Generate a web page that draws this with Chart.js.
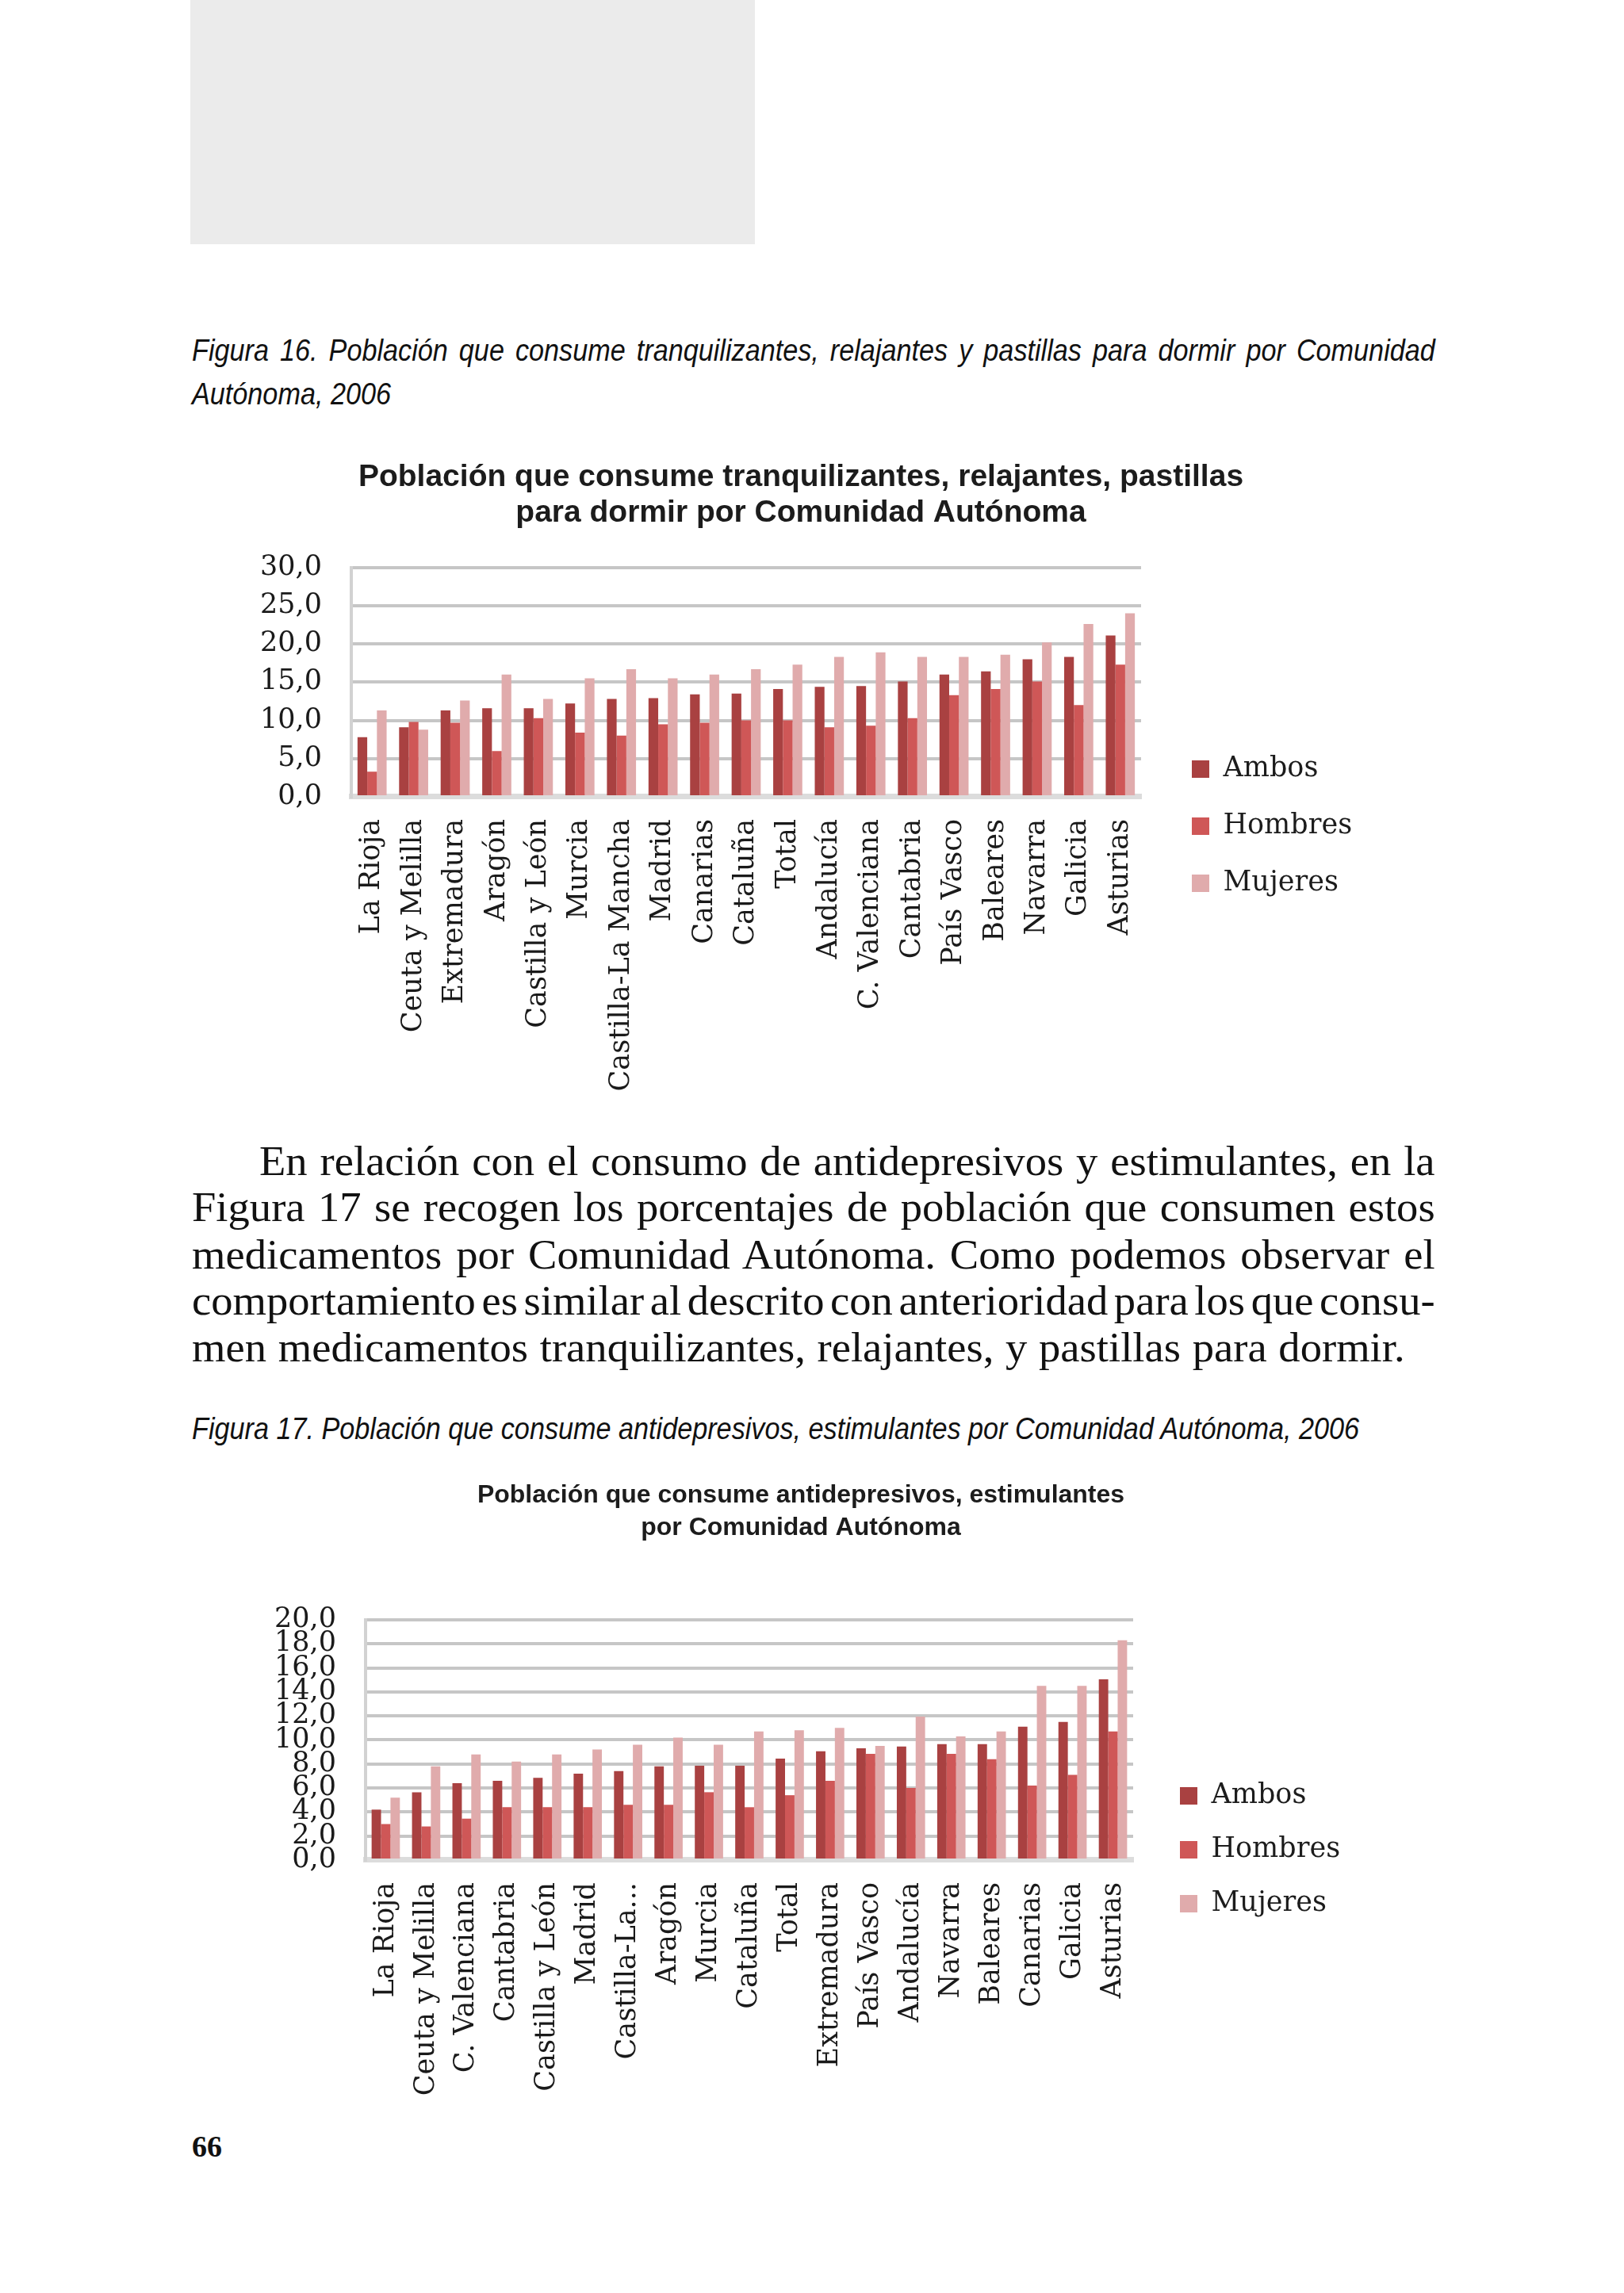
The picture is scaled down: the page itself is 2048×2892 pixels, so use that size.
<!DOCTYPE html>
<html lang="es">
<head>
<meta charset="utf-8">
<script src="https://cdn.jsdelivr.net/npm/chart.js@4.4.1/dist/chart.umd.min.js"></script>
<style>
html, body { margin: 0; padding: 0; background: #fff; }
body { width: 2048px; height: 2892px; position: relative; overflow: hidden; }
.abs { position: absolute; }
.cap { font-family: "Liberation Sans Narrow", "Liberation Sans", sans-serif; font-style: italic; font-size: 38px; line-height: 1; white-space: nowrap; transform-origin: 0 0; transform: scaleX(0.9); color: #111; }
.par { font-family: "Liberation Serif", serif; font-size: 52px; line-height: 1; white-space: nowrap; transform-origin: 0 0; transform: scaleX(1.05); color: #111; word-spacing: -6px; }
.just { text-align: justify; text-align-last: justify; }
canvas { position: absolute; }
</style>
</head>
<body>

<div class="abs" style="left:240px;top:0;width:712px;height:308px;background:#ebebeb"></div>

<div class="abs cap just" style="left:242px;top:423px;width:1742px">Figura 16. Población que consume tranquilizantes, relajantes y pastillas para dormir por Comunidad</div>
<div class="abs cap" style="left:242px;top:478px">Autónoma, 2006</div>

<canvas id="chart1" width="1420" height="944" style="left:300px;top:570px;width:1420px;height:944px"></canvas>

<div class="abs par just" style="left:327px;top:1439px;width:1412px">En relación con el consumo de antidepresivos y estimulantes, en la</div>
<div class="abs par just" style="left:242px;top:1497px;width:1493px">Figura 17 se recogen los porcentajes de población que consumen estos</div>
<div class="abs par just" style="left:242px;top:1557px;width:1493px">medicamentos por Comunidad Autónoma. Como podemos observar el</div>
<div class="abs par just" style="left:242px;top:1615px;width:1493px">comportamiento es similar al descrito con anterioridad para los que consu-</div>
<div class="abs par" style="left:242px;top:1674px;word-spacing:1px">men medicamentos tranquilizantes, relajantes, y pastillas para dormir.</div>

<div class="abs cap" style="left:242px;top:1783px">Figura 17. Población que consume antidepresivos, estimulantes por Comunidad Autónoma, 2006</div>

<canvas id="chart2" width="1380" height="954" style="left:320px;top:1856px;width:1380px;height:954px"></canvas>

<div class="abs" style="left:242px;top:2688px;font-family:'Liberation Serif',serif;font-weight:bold;font-size:38px;line-height:1;color:#111">66</div>

<script>
// Figura 16
const cats1 = ['La Rioja', 'Ceuta y Melilla', 'Extremadura', 'Aragón', 'Castilla y León', 'Murcia',
  'Castilla-La Mancha', 'Madrid', 'Canarias', 'Cataluña', 'Total', 'Andalucía', 'C. Valenciana',
  'Cantabria', 'País Vasco', 'Baleares', 'Navarra', 'Galicia', 'Asturias'];
const ambos1   = [7.8, 9.1, 11.3, 11.6, 11.6, 12.2, 12.8, 12.9, 13.4, 13.5, 14.1, 14.4, 14.5, 15.1, 16.0, 16.4, 18.0, 18.3, 21.1];
const hombres1 = [3.3, 9.8, 9.7, 6.0, 10.3, 8.4, 8.0, 9.5, 9.7, 10.0, 10.0, 9.1, 9.3, 10.3, 13.3, 14.1, 15.1, 12.0, 17.3];
const mujeres1 = [11.3, 8.8, 12.6, 16.0, 12.8, 15.5, 16.7, 15.5, 16.0, 16.7, 17.3, 18.3, 18.9, 18.3, 18.3, 18.6, 20.2, 22.6, 24.0];
const yTicks1  = [0, 5, 10, 15, 20, 25, 30];
const title1   = ['Población que consume tranquilizantes, relajantes, pastillas', 'para dormir por Comunidad Autónoma'];

// Figura 17
const cats2 = ['La Rioja', 'Ceuta y Melilla', 'C. Valenciana', 'Cantabria', 'Castilla y León', 'Madrid',
  'Castilla-La...', 'Aragón', 'Murcia', 'Cataluña', 'Total', 'Extremadura', 'País Vasco', 'Andalucía',
  'Navarra', 'Baleares', 'Canarias', 'Galicia', 'Asturias'];
const ambos2   = [4.2, 5.65, 6.4, 6.6, 6.85, 7.2, 7.4, 7.8, 7.85, 7.85, 8.45, 9.05, 9.3, 9.45, 9.65, 9.65, 11.1, 11.5, 15.05];
const hombres2 = [3.0, 2.8, 3.45, 4.4, 4.4, 4.4, 4.6, 4.6, 5.65, 4.4, 5.4, 6.6, 8.85, 6.0, 8.85, 8.4, 6.2, 7.1, 10.7];
const mujeres2 = [5.2, 7.8, 8.8, 8.2, 8.8, 9.2, 9.6, 10.2, 9.6, 10.7, 10.8, 11.0, 9.5, 11.95, 10.3, 10.7, 14.5, 14.5, 18.3];
const yTicks2  = [0, 2, 4, 6, 8, 10, 12, 14, 16, 18, 20];
const title2   = ['Población que consume antidepresivos, estimulantes', 'por Comunidad Autónoma'];

const seriesNames  = ['Ambos', 'Hombres', 'Mujeres'];
const seriesColors = ['#a94141', '#cf5757', '#e0abac'];

const serif = "'DejaVu Serif', 'Liberation Serif', serif";

// coloca leyenda y título donde están en la página original
const colocar = {
  id: 'colocar',
  beforeDraw(chart, args, opts) {
    const lg = chart.legend;
    lg.left = chart.chartArea.right + opts.dx;
    lg.right = lg.left + 300;
    const tb = chart.titleBlock;
    tb.left = opts.cx - 700;
    tb.right = opts.cx + 700;
  }
};

function crearGrafica(id, cats, series, ticks, maxY, title, g) {
  const ctx = document.getElementById(id);
  new Chart(ctx, {
    type: 'bar',
    data: {
      labels: cats,
      datasets: series.map((d, i) => ({
        label: seriesNames[i],
        data: d,
        backgroundColor: seriesColors[i],
        borderWidth: 0,
        categoryPercentage: 0.7,
        barPercentage: 1.0
      }))
    },
    plugins: [colocar],
    options: {
      responsive: false,
      animation: false,
      devicePixelRatio: 1,
      layout: { padding: { left: 0, right: g.padR, top: 0, bottom: 0 } },
      plugins: {
        tooltip: { enabled: false },
        title: {
          display: true,
          text: title,
          color: '#1c1c1c',
          font: { family: "'Liberation Sans Narrow', 'Liberation Sans', sans-serif", weight: 'bold', size: g.titleSize, lineHeight: g.titleLH },
          padding: { top: 10, bottom: g.titleBottom }
        },
        legend: {
          position: 'right',
          align: 'center',
          maxWidth: 200,
          labels: {
            boxWidth: 22,
            boxHeight: 22,
            padding: g.legendPad,
            color: '#1c1c1c',
            font: { family: serif, size: 35 }
          }
        },
        colocar: { dx: g.legendDx, cx: g.titleX }
      },
      scales: {
        x: {
          grid: { display: false, drawTicks: false },
          border: { color: '#dcdcdc', width: 7 },
          ticks: {
            minRotation: 90, maxRotation: 90, autoSkip: false, padding: 28,
            color: '#1a1a1a', font: { family: serif, size: 35 }
          },
          afterFit(s) { s.height = g.xHeight; }
        },
        y: {
          min: 0, max: maxY,
          grid: { color: '#c6c6c6', lineWidth: 4, drawTicks: false },
          border: { color: '#d2d2d2', width: 4 },
          ticks: {
            autoSkip: false, padding: 37, color: '#1a1a1a',
            font: { family: serif, size: 35, lineHeight: 0.8 },
            callback: v => v.toFixed(1).replace('.', ',')
          },
          afterBuildTicks(s) { s.ticks = ticks.map(v => ({ value: v })); },
          afterFit(s) { s.width = g.yWidth; }
        }
      }
    }
  });
}

crearGrafica('chart1', cats1, [ambos1, hombres1, mujeres1], yTicks1, 30, title1,
  { padR: 81, yWidth: 143, xHeight: 509, titleSize: 39, titleLH: 1.15, titleBottom: 46, legendPad: 37, legendDx: 27, titleX: 710 });

crearGrafica('chart2', cats2, [ambos2, hombres2, mujeres2], yTicks2, 20, title2,
  { padR: 71, yWidth: 141, xHeight: 464, titleSize: 32, titleLH: 1.28, titleBottom: 95, legendPad: 33, legendDx: 26, titleX: 690 });
</script>
</body>
</html>
